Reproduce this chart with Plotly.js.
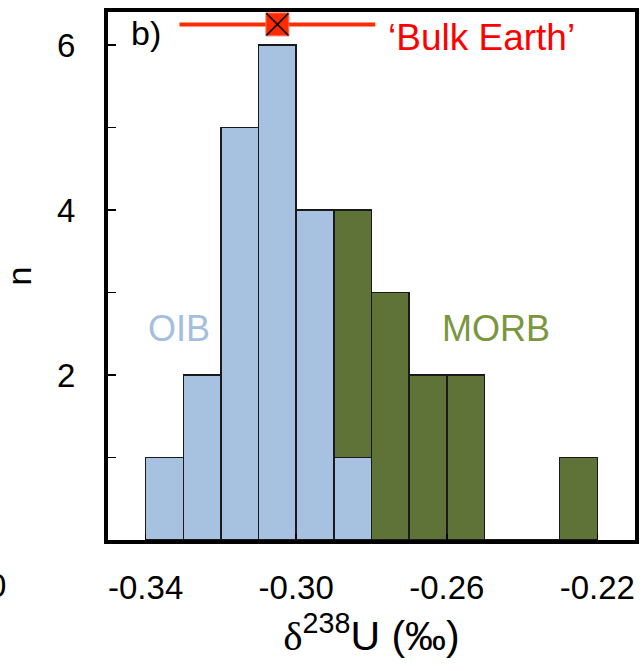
<!DOCTYPE html>
<html>
<head>
<meta charset="utf-8">
<script src="https://cdn.plot.ly/plotly-3.0.1.min.js"></script>
<style>html,body{margin:0;padding:0;background:#fff;}#chart{width:644px;height:671px;}</style>
</head>
<body>
<div id="chart"></div>
<script>
// Bin left edges (δ238U, ‰), bin width 0.01
const binEdges = [-0.34, -0.33, -0.32, -0.31, -0.30, -0.29, -0.28, -0.27, -0.26, -0.25, -0.24, -0.23];
const binWidth = 0.01;
const oibCounts  = [1, 2, 5, 6, 4, 1, 0, 0, 0, 0, 0, 0];
const morbCounts = [0, 0, 0, 0, 0, 3, 3, 2, 2, 0, 0, 1];
const xTickVals = [-0.34, -0.30, -0.26, -0.22];
const xTickText = ['-0.34', '-0.30', '-0.26', '-0.22'];
const yTickVals = [2, 4, 6];
const yTickText = ['2', '4', '6'];
// Bulk Earth estimate
const bulkEarth = [-0.305];
const bulkEarthMinus = [0.026];
const bulkEarthPlus = [0.026];
const bulkEarthY = [6.25];

const centers = binEdges.map(e => e + binWidth / 2);
const FONT = 'Liberation Sans, Arial, sans-serif';

const traces = [
  {
    type: 'bar', x: centers, y: oibCounts, width: binWidth, name: 'OIB',
    marker: {color: '#a7c1e0', line: {color: '#1a1a1a', width: 1.5}},
    hoverinfo: 'x+y'
  },
  {
    type: 'bar', x: centers, y: morbCounts, width: binWidth, name: 'MORB',
    marker: {color: '#5f7237', line: {color: '#1a1a1a', width: 1.5}},
    hoverinfo: 'x+y'
  },
  {
    type: 'scatter', mode: 'markers', x: bulkEarth, y: bulkEarthY,
    error_x: {type: 'data', symmetric: false, array: bulkEarthPlus, arrayminus: bulkEarthMinus,
              color: '#ff2a00', thickness: 4, width: 0},
    marker: {symbol: 'square', size: 23, color: '#ff2a00', line: {color: '#ff7a6a', width: 1}},
    cliponaxis: false, hoverinfo: 'x'
  },
  {
    type: 'scatter', mode: 'markers', x: bulkEarth, y: bulkEarthY,
    marker: {symbol: 'x-thin-open', size: 22, color: '#000', line: {color: '#000', width: 1.5}},
    cliponaxis: false, hoverinfo: 'skip'
  }
];

const layout = {
  width: 644, height: 671,
  margin: {l: 108, r: 9, t: 12, b: 131, pad: 0},
  paper_bgcolor: '#fff', plot_bgcolor: '#fff',
  barmode: 'stack', bargap: 0,
  showlegend: false,
  font: {family: FONT, color: '#000', size: 32},
  xaxis: {
    range: [-0.35, -0.21], tickmode: 'array', tickvals: xTickVals, ticktext: xTickText,
    ticks: 'inside', ticklen: 6, tickwidth: 1.5, tickcolor: '#000',
    showline: true, linewidth: 4, linecolor: '#000', mirror: true,
    showgrid: false, zeroline: false,
    tickfont: {family: FONT, size: 33, color: '#000'},
    ticklabelstandoff: 15,
    title: {text: "<span style='font-family:Liberation Serif'>δ</span><sup>238</sup>U (‰)",
            font: {family: FONT, size: 41, color: '#000'}, standoff: 18}
  },
  yaxis: {
    range: [0, 6.4], tickmode: 'array', tickvals: yTickVals, ticktext: yTickText,
    ticks: 'inside', ticklen: 8, tickwidth: 1.5, tickcolor: '#000',
    minor: {tickmode: 'linear', tick0: 0, dtick: 1, ticks: 'inside', ticklen: 8, tickwidth: 1.5, tickcolor: '#000', showgrid: false},
    showline: true, linewidth: 4, linecolor: '#000', mirror: true,
    showgrid: false, zeroline: false,
    tickfont: {family: FONT, size: 33, color: '#000'},
    ticklabelstandoff: 22,
    title: {text: 'n', font: {family: FONT, size: 34, color: '#000'}, standoff: 26}
  },
  annotations: [
    {xref: 'paper', yref: 'paper', x: 0.04, y: 1.0, xanchor: 'left', yanchor: 'top',
     text: 'b)', showarrow: false, font: {family: FONT, size: 34, color: '#000'}},
    {xref: 'paper', yref: 'paper', x: 0.527, y: 0.995, xanchor: 'left', yanchor: 'top',
     text: '‘Bulk Earth’', showarrow: false, font: {family: FONT, size: 37, color: '#ff0000'}},
    {xref: 'paper', yref: 'paper', x: 0.135, y: 0.4, xanchor: 'center', yanchor: 'middle',
     text: 'OIB', showarrow: false, font: {family: FONT, size: 36, color: '#a3bfe0'}},
    {xref: 'paper', yref: 'paper', x: 0.737, y: 0.4, xanchor: 'center', yanchor: 'middle',
     text: 'MORB', showarrow: false, font: {family: FONT, size: 36, color: '#7a963f'}},
    {xref: 'paper', yref: 'paper', x: -0.19, y: -0.087, xanchor: 'right', yanchor: 'middle',
     text: '0', showarrow: false, font: {family: FONT, size: 33, color: '#000'}}
  ]
};

Plotly.newPlot('chart', traces, layout, {displayModeBar: false, staticPlot: true});
</script>
</body>
</html>
